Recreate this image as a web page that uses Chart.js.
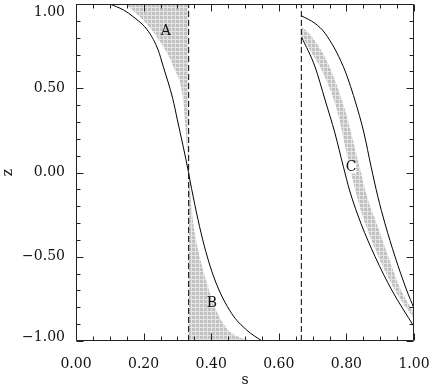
<!DOCTYPE html>
<html lang="en">
<head>
  <meta charset="UTF-8" />
  <title>z vs s</title>
  <script src="https://cdn.jsdelivr.net/npm/chart.js"></script>
  <style>
    html, body { margin: 0; padding: 0; background: #fff; }
  </style>
</head>
<body>
  <canvas id="plot" width="430" height="387"></canvas>

  <script>
    // left solid curve
    const leftS = [0.100, 0.140, 0.169, 0.215, 0.243, 0.258, 0.286, 0.300, 0.333, 0.337, 0.375, 0.411, 0.460, 0.505, 0.550];
    const leftZ = [1.000, 0.965, 0.925, 0.835, 0.727, 0.630, 0.440, 0.312, 0.000, -0.045, -0.400, -0.638, -0.835, -0.935, -1.000];

    // right pair of solid curves
    const outerS = [0.667, 0.707, 0.737, 0.791, 0.825, 0.852, 0.873, 0.893, 0.914, 0.944, 0.978, 1.000];
    const outerZ = [0.930, 0.885, 0.826, 0.628, 0.430, 0.234, 0.035, -0.143, -0.302, -0.500, -0.697, -0.806];
    const innerS = [0.667, 0.707, 0.737, 0.766, 0.791, 0.810, 0.843, 0.885, 0.934, 1.000];
    const innerZ = [0.806, 0.628, 0.430, 0.234, 0.035, -0.110, -0.302, -0.500, -0.697, -0.915];

    // shaded regions
    const areaAS = [0.145, 0.189, 0.231, 0.288, 0.317, 0.325, 0.333];
    const areaAZ = [1.000, 0.925, 0.826, 0.628, 0.430, 0.234, 0.000];
    const areaBS = [0.333, 0.347, 0.355, 0.382, 0.411, 0.450, 0.480, 0.520];
    const areaBZ = [0.000, -0.300, -0.400, -0.620, -0.800, -0.935, -0.975, -1.000];
    const bandHiS = [0.667, 0.700, 0.745, 0.796, 0.834, 0.862, 0.889, 0.924, 0.962, 1.000];
    const bandHiZ = [0.868, 0.800, 0.650, 0.371, 0.074, -0.150, -0.300, -0.500, -0.700, -0.830];
    const bandLoS = [0.667, 0.700, 0.722, 0.772, 0.805, 0.832, 0.855, 0.895, 0.944, 1.000];
    const bandLoZ = [0.815, 0.700, 0.628, 0.371, 0.074, -0.150, -0.300, -0.500, -0.700, -0.868];

    // dashed separators
    const dashS = [1 / 3, 2 / 3];

    // region letters
    const tagText = ['A', 'B', 'C'];
    const tagS = [0.266, 0.402, 0.814];
    const tagZ = [0.837, -0.775, 0.030];

    const sMin = 0, sMax = 1, zMin = -1, zMax = 1;

    const FONT = 'DejaVu Serif';
    const pts = (xs, ys) => xs.map((v, i) => ({ x: v, y: ys[i] }));
    const isMajor = (v, step) => Math.abs(v / step - Math.round(v / step)) < 1e-6;
    const fmt = v => {
      const s = Math.abs(v).toFixed(2);
      return v < -1e-9 ? '\u2212' + s : s;
    };

    const canvas = document.getElementById('plot');
    const ctx = canvas.getContext('2d');

    // grey cross-hatch fill
    const tile = document.createElement('canvas');
    tile.width = 4; tile.height = 4;
    const tc = tile.getContext('2d');
    tc.fillStyle = '#c2c2c2';
    tc.fillRect(0, 0, 4, 4);
    tc.fillStyle = '#e4e4e4';
    tc.fillRect(3, 0, 1, 4);
    tc.fillRect(0, 3, 4, 1);
    const hatch = ctx.createPattern(tile, 'repeat');

    const curve = (xs, ys) => ({
      data: pts(xs, ys), showLine: true, borderColor: '#000', borderWidth: 1,
      pointRadius: 0, cubicInterpolationMode: 'monotone', fill: false
    });
    const shade = (xs, ys, fill) => ({
      data: pts(xs, ys), showLine: true, borderColor: 'rgba(0,0,0,0)', borderWidth: 0,
      pointRadius: 0, cubicInterpolationMode: 'monotone', fill, backgroundColor: hatch
    });
    const dashed = s => ({
      data: [{ x: s, y: zMin }, { x: s, y: zMax }], showLine: true, borderColor: '#000',
      borderWidth: 1, borderDash: [6, 3], pointRadius: 0, fill: false
    });

    // inward ticks, box frame, y labels and letters
    const framePlugin = {
      id: 'framePlugin',
      afterDatasetsDraw(chart) {
        const { ctx, chartArea: a, scales: { x, y } } = chart;
        const L = Math.round(a.left) + 0.5, R = Math.round(a.right) - 0.5;
        const T = Math.round(a.top) + 0.5, B = Math.round(a.bottom) - 0.5;
        ctx.save();
        ctx.strokeStyle = '#222';
        ctx.lineWidth = 1;
        ctx.beginPath();
        ctx.rect(L, T, R - L, B - T);
        x.ticks.forEach(t => {
          const p = Math.round(x.getPixelForValue(t.value)) + 0.5;
          const len = isMajor(t.value, 0.2) ? 7 : 4;
          ctx.moveTo(p, B); ctx.lineTo(p, B - len);
          ctx.moveTo(p, T); ctx.lineTo(p, T + len);
        });
        y.ticks.forEach(t => {
          const p = Math.round(y.getPixelForValue(t.value)) + 0.5;
          const len = isMajor(t.value, 0.5) ? 7 : 4;
          ctx.moveTo(L, p); ctx.lineTo(L + len, p);
          ctx.moveTo(R, p); ctx.lineTo(R - len, p);
        });
        ctx.stroke();

        ctx.fillStyle = '#111';
        ctx.font = '14px "' + FONT + '"';
        ctx.textAlign = 'right';
        ctx.textBaseline = 'middle';
        y.ticks.forEach(t => {
          if (!isMajor(t.value, 0.5)) return;
          let p = y.getPixelForValue(t.value);
          p = Math.min(Math.max(p, a.top + 8), a.bottom - 4);
          ctx.fillText(fmt(t.value), a.left - 11, p);
        });

        ctx.textAlign = 'center';
        tagText.forEach((txt, i) => {
          const px = x.getPixelForValue(tagS[i]);
          const py = y.getPixelForValue(tagZ[i]);
          if (txt === 'C') {
            ctx.fillStyle = '#fff';
            ctx.fillRect(px - 5, py - 6, 10, 12);
          }
          ctx.fillStyle = '#111';
          ctx.fillText(txt, px, py);
        });
        ctx.restore();
      }
    };

    new Chart(ctx, {
      type: 'scatter',
      data: {
        datasets: [
          curve(leftS, leftZ),
          curve(outerS, outerZ),
          curve(innerS, innerZ),
          dashed(dashS[0]),
          dashed(dashS[1]),
          shade(areaAS, areaAZ, 'end'),
          shade(areaBS, areaBZ, 'start'),
          shade(bandHiS, bandHiZ, false),
          shade(bandLoS, bandLoZ, '-1')
        ]
      },
      options: {
        responsive: false,
        animation: false,
        devicePixelRatio: 1,
        layout: { padding: { left: 0, top: 4, right: 16, bottom: 0 } },
        plugins: {
          legend: { display: false },
          tooltip: { enabled: false },
          filler: { drawTime: 'beforeDatasetsDraw' }
        },
        scales: {
          x: {
            type: 'linear', min: sMin, max: sMax,
            grid: { display: false },
            border: { display: false },
            ticks: {
              stepSize: 0.05, autoSkip: false, maxRotation: 0, padding: 7,
              color: '#111', font: { family: FONT, size: 14 },
              callback: v => isMajor(v, 0.2) ? fmt(v) : ''
            },
            title: { display: true, text: 's', color: '#111', font: { family: FONT, size: 14, lineHeight: 1 }, padding: 0 },
            afterFit: s => { s.height = 46; s.paddingLeft = 0; s.paddingRight = 0; }
          },
          y: {
            type: 'linear', min: zMin, max: zMax,
            grid: { display: false },
            border: { display: false },
            ticks: { display: false, stepSize: 0.1, autoSkip: false },
            title: { display: true, text: 'z', color: '#111', font: { family: FONT, size: 14 }, padding: 0 },
            afterFit: s => { s.width = 76; }
          }
        }
      },
      plugins: [framePlugin]
    });
  </script>
</body>
</html>
